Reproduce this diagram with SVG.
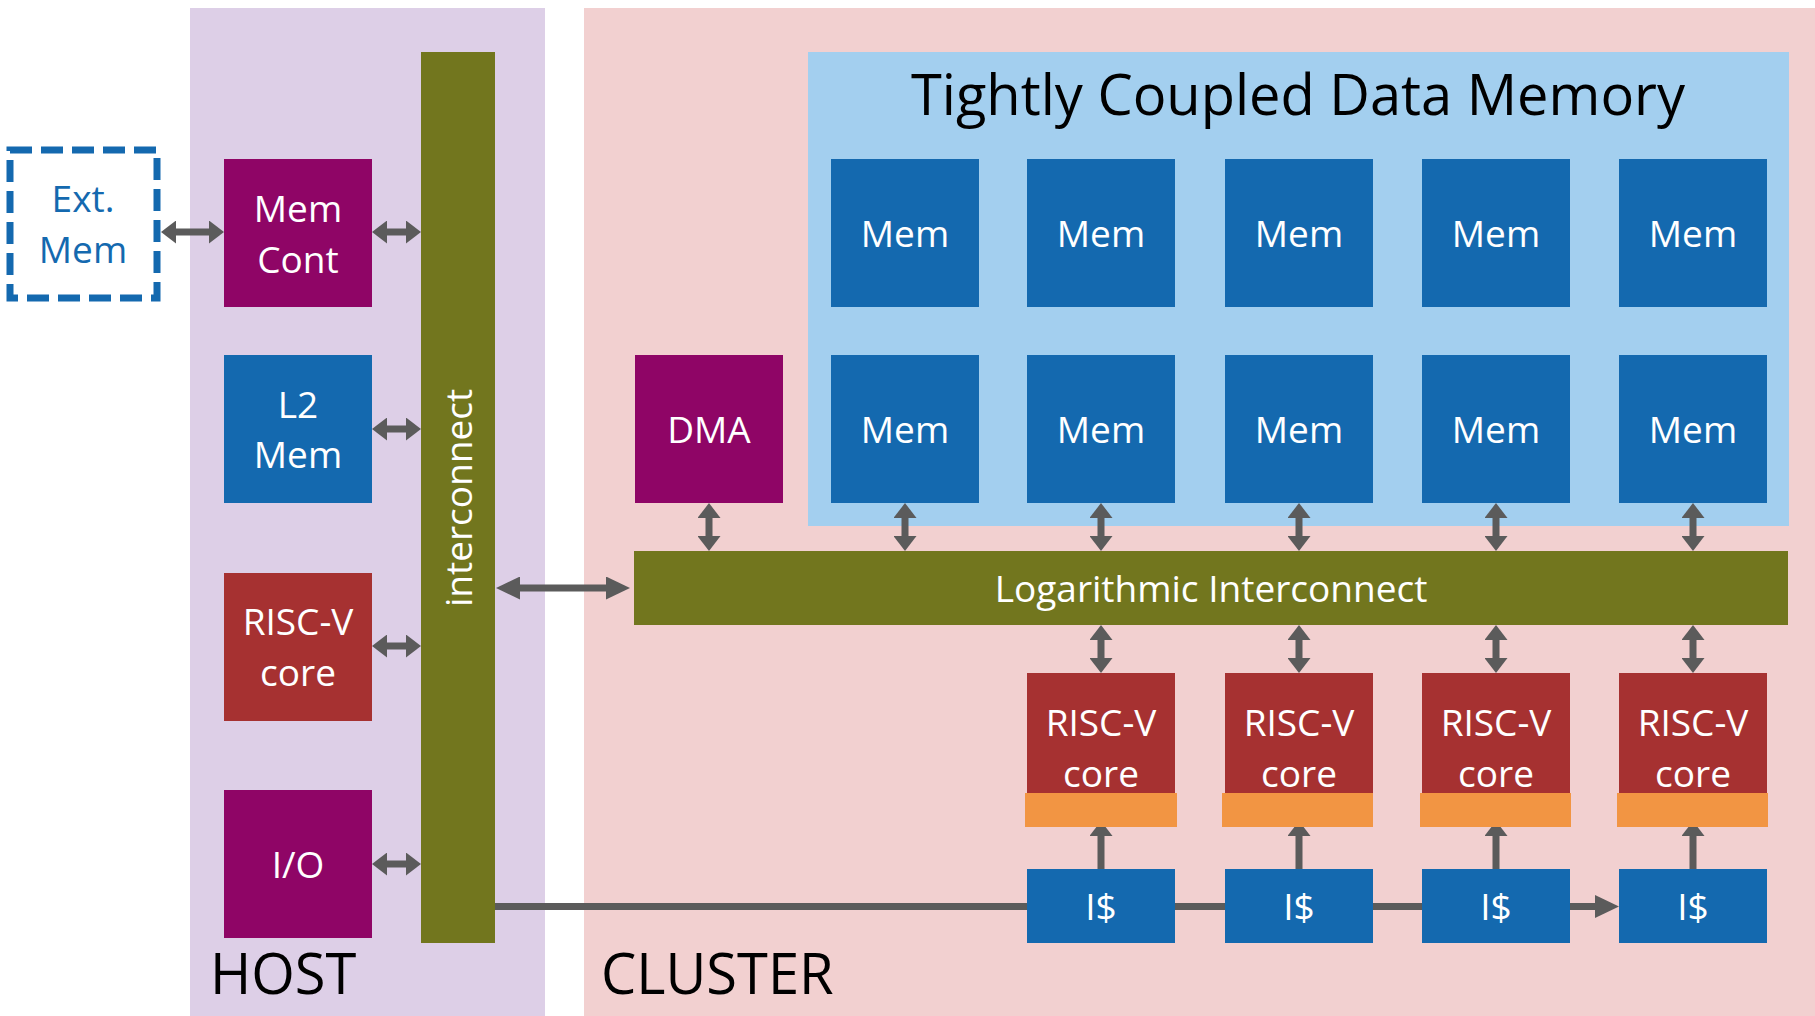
<svg xmlns="http://www.w3.org/2000/svg" width="1815" height="1016" viewBox="0 0 1815 1016">
<defs>
<style>
.lbl{font-family:"Open Sans","Noto Sans","Liberation Sans",sans-serif;font-size:37px;fill:#fff;text-anchor:middle}
.big{font-family:"Open Sans","Noto Sans","Liberation Sans",sans-serif;font-size:56px;fill:#000}
.blue{fill:#1469AF}
.purple{fill:#8F0566}
.olive{fill:#72761E}
.red{fill:#A63131}
.orange{fill:#F29543}
.conn{stroke:#5B5B5B;stroke-width:7;fill:none}
.dbl{marker-start:url(#ah);marker-end:url(#ah)}
.one{marker-end:url(#ah)}
.bigone{marker-end:url(#ahb)}
.bigdbl{marker-start:url(#ahb);marker-end:url(#ahb)}
</style>
<marker id="ah" viewBox="0 0 15 23" refX="5" refY="11.5" markerWidth="15" markerHeight="23" markerUnits="userSpaceOnUse" orient="auto-start-reverse">
<path d="M0,0 L15,11.5 L0,23 z" fill="#5B5B5B"/>
</marker>
<marker id="ahb" viewBox="0 0 24 23" refX="8" refY="11.5" markerWidth="24" markerHeight="23" markerUnits="userSpaceOnUse" orient="auto-start-reverse">
<path d="M0,0 L24,11.5 L0,23 z" fill="#5B5B5B"/>
</marker>
</defs>

<g id="host-panel">
<rect x="190" y="8" width="355" height="1008" fill="#DDCFE7"/>
<text class="big" x="210" y="994" font-size="54">HOST</text>
</g>
<g id="cluster-panel">
<rect x="584" y="8" width="1231" height="1008" fill="#F2D0D0"/>
<text class="big" x="601" y="994" font-size="55">CLUSTER</text>
</g>
<g id="tcdm">
<rect x="808" y="52" width="981" height="474" fill="#A3CFEF"/>
<text class="big" x="1298" y="115" text-anchor="middle">Tightly Coupled Data Memory</text>
</g>

<g id="connectors">
<line class="conn dbl" x1="171" y1="232" x2="214" y2="232"/>
<line class="conn dbl" x1="382" y1="232" x2="411" y2="232"/>
<line class="conn dbl" x1="382" y1="429" x2="411" y2="429"/>
<line class="conn dbl" x1="382" y1="646" x2="411" y2="646"/>
<line class="conn dbl" x1="382" y1="864" x2="411" y2="864"/>
<line class="conn bigdbl" x1="512" y1="588" x2="614" y2="588"/>
<line class="conn dbl" x1="709" y1="513" x2="709" y2="541"/>
<line class="conn dbl" x1="905" y1="513" x2="905" y2="541"/>
<line class="conn dbl" x1="1101" y1="513" x2="1101" y2="541"/>
<line class="conn dbl" x1="1299" y1="513" x2="1299" y2="541"/>
<line class="conn dbl" x1="1496" y1="513" x2="1496" y2="541"/>
<line class="conn dbl" x1="1693" y1="513" x2="1693" y2="541"/>
<line class="conn dbl" x1="1101" y1="635" x2="1101" y2="663"/>
<line class="conn dbl" x1="1299" y1="635" x2="1299" y2="663"/>
<line class="conn dbl" x1="1496" y1="635" x2="1496" y2="663"/>
<line class="conn dbl" x1="1693" y1="635" x2="1693" y2="663"/>
<line class="conn one" x1="1101" y1="869" x2="1101" y2="831"/>
<line class="conn one" x1="1299" y1="869" x2="1299" y2="831"/>
<line class="conn one" x1="1496" y1="869" x2="1496" y2="831"/>
<line class="conn one" x1="1693" y1="869" x2="1693" y2="831"/>
<line class="conn bigone" x1="495" y1="906.5" x2="1603" y2="906.5"/>
</g>

<g id="ext-mem">
<rect x="10" y="150" width="147" height="148" fill="none" stroke="#1469AF" stroke-width="7" stroke-dasharray="22 9"/>
<text class="lbl" x="83" y="212" style="fill:#1469AF">Ext.</text>
<text class="lbl" x="83" y="263" style="fill:#1469AF">Mem</text>
</g>
<g id="mem-cont">
<rect class="purple" x="224" y="159" width="148" height="148"/>
<text class="lbl" x="298" y="222">Mem</text>
<text class="lbl" x="298" y="273">Cont</text>
</g>
<g id="l2-mem">
<rect class="blue" x="224" y="355" width="148" height="148"/>
<text class="lbl" x="298" y="418">L2</text>
<text class="lbl" x="298" y="468">Mem</text>
</g>
<g id="host-core">
<rect class="red" x="224" y="573" width="148" height="148"/>
<text class="lbl" x="298" y="635">RISC-V</text>
<text class="lbl" x="298" y="686">core</text>
</g>
<g id="io">
<rect class="purple" x="224" y="790" width="148" height="148"/>
<text class="lbl" x="298" y="878">I/O</text>
</g>
<g id="host-interconnect">
<rect class="olive" x="421" y="52" width="74" height="891"/>
<text class="lbl" transform="translate(472,498) rotate(-90)">interconnect</text>
</g>

<g id="dma">
<rect class="purple" x="635" y="355" width="148" height="148"/>
<text class="lbl" x="709" y="443">DMA</text>
</g>
<g id="mem-1-1"><rect class="blue" x="831" y="159" width="148" height="148"/><text class="lbl" x="905" y="247">Mem</text></g>
<g id="mem-1-2"><rect class="blue" x="1027" y="159" width="148" height="148"/><text class="lbl" x="1101" y="247">Mem</text></g>
<g id="mem-1-3"><rect class="blue" x="1225" y="159" width="148" height="148"/><text class="lbl" x="1299" y="247">Mem</text></g>
<g id="mem-1-4"><rect class="blue" x="1422" y="159" width="148" height="148"/><text class="lbl" x="1496" y="247">Mem</text></g>
<g id="mem-1-5"><rect class="blue" x="1619" y="159" width="148" height="148"/><text class="lbl" x="1693" y="247">Mem</text></g>
<g id="mem-2-1"><rect class="blue" x="831" y="355" width="148" height="148"/><text class="lbl" x="905" y="443">Mem</text></g>
<g id="mem-2-2"><rect class="blue" x="1027" y="355" width="148" height="148"/><text class="lbl" x="1101" y="443">Mem</text></g>
<g id="mem-2-3"><rect class="blue" x="1225" y="355" width="148" height="148"/><text class="lbl" x="1299" y="443">Mem</text></g>
<g id="mem-2-4"><rect class="blue" x="1422" y="355" width="148" height="148"/><text class="lbl" x="1496" y="443">Mem</text></g>
<g id="mem-2-5"><rect class="blue" x="1619" y="355" width="148" height="148"/><text class="lbl" x="1693" y="443">Mem</text></g>

<g id="log-interconnect">
<rect class="olive" x="634" y="551" width="1154" height="74"/>
<text class="lbl" x="1211" y="602">Logarithmic Interconnect</text>
</g>

<g id="core-1"><rect class="red" x="1027" y="673" width="148" height="148"/><rect class="orange" x="1025" y="793" width="152" height="34"/><text class="lbl" x="1101" y="736">RISC-V</text><text class="lbl" x="1101" y="787">core</text></g>
<g id="core-2"><rect class="red" x="1225" y="673" width="148" height="148"/><rect class="orange" x="1222" y="793" width="151" height="34"/><text class="lbl" x="1299" y="736">RISC-V</text><text class="lbl" x="1299" y="787">core</text></g>
<g id="core-3"><rect class="red" x="1422" y="673" width="148" height="148"/><rect class="orange" x="1420" y="793" width="151" height="34"/><text class="lbl" x="1496" y="736">RISC-V</text><text class="lbl" x="1496" y="787">core</text></g>
<g id="core-4"><rect class="red" x="1619" y="673" width="148" height="148"/><rect class="orange" x="1617" y="793" width="151" height="34"/><text class="lbl" x="1693" y="736">RISC-V</text><text class="lbl" x="1693" y="787">core</text></g>

<g id="icache-1"><rect class="blue" x="1027" y="869" width="148" height="74"/><text class="lbl" x="1101" y="920">I$</text></g>
<g id="icache-2"><rect class="blue" x="1225" y="869" width="148" height="74"/><text class="lbl" x="1299" y="920">I$</text></g>
<g id="icache-3"><rect class="blue" x="1422" y="869" width="148" height="74"/><text class="lbl" x="1496" y="920">I$</text></g>
<g id="icache-4"><rect class="blue" x="1619" y="869" width="148" height="74"/><text class="lbl" x="1693" y="920">I$</text></g>
</svg>
